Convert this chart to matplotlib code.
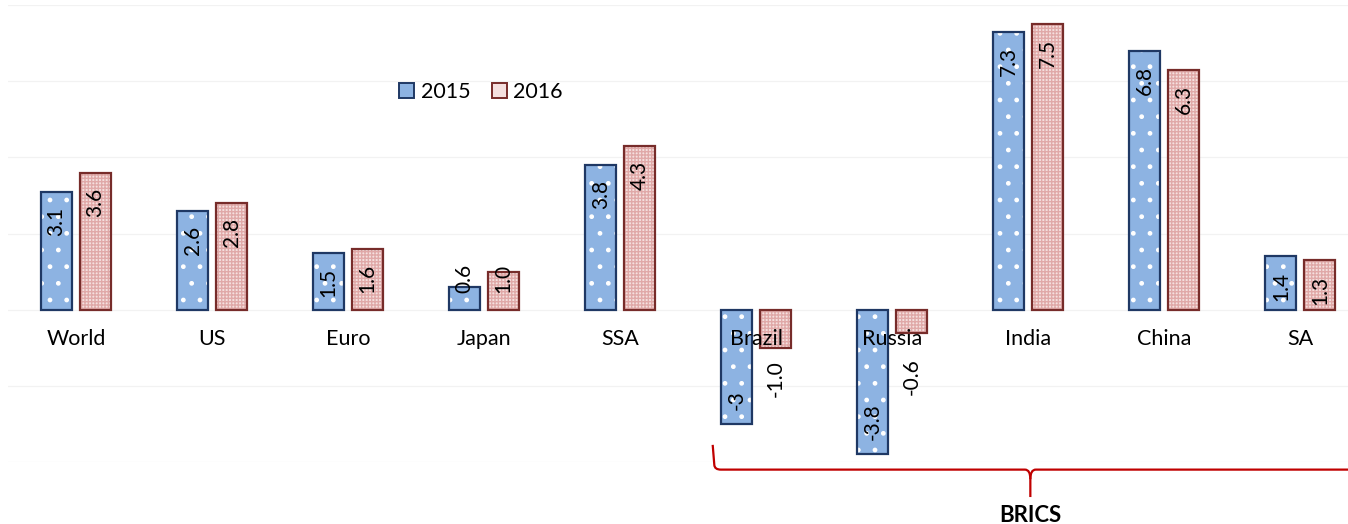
import matplotlib
matplotlib.use("Agg")
import matplotlib.pyplot as plt
from matplotlib.patches import Patch, PathPatch
from matplotlib.path import Path
import numpy as np

categories = ["World", "US", "Euro", "Japan", "SSA", "Brazil", "Russia", "India", "China", "SA"]
growth_2015 = [3.1, 2.6, 1.5, 0.6, 3.8, -3.0, -3.8, 7.3, 6.8, 1.4]
growth_2016 = [3.6, 2.8, 1.6, 1.0, 4.3, -1.0, -0.6, 7.5, 6.3, 1.3]
labels_2015 = ["3.1", "2.6", "1.5", "0.6", "3.8", "-3", "-3.8", "7.3", "6.8", "1.4"]
labels_2016 = ["3.6", "2.8", "1.6", "1.0", "4.3", "-1.0", "-0.6", "7.5", "6.3", "1.3"]
series_names = ["2015", "2016"]
group_label = "BRICS"
group_first, group_tip = "Brazil", "India"

plt.rcParams["font.family"] = ["Lato", "DejaVu Sans"]
plt.rcParams["hatch.linewidth"] = 1.0

W, H = 1348, 524
fig = plt.figure(figsize=(W / 100, H / 100), dpi=100)
ax = fig.add_axes([8 / W, 1 - 462 / H, 1 - 8 / W, (462 - 5) / H])
ax.set_xlim(-0.5, 9.35)
ax.set_ylim(-4, 8)
for s in ax.spines.values():
    s.set_visible(False)
ax.set_xticks([])
ax.set_yticks([])
for g in np.arange(-4, 8.1, 2):
    ax.axhline(g, color="#F2F2F2", lw=0.9, zorder=0)

x = np.arange(len(categories))
off = 0.143
bw = 0.228
c15_face, c15_edge = "#8DB3E2", "#1F3864"
c16_face, c16_edge = "#F5E0DF", "#772C2A"

# 2015 bars: fill + white dots, then outline
ax.bar(x - off, growth_2015, bw, color=c15_face, edgecolor="white", lw=0, hatch=".", zorder=2)
ax.bar(x - off, growth_2015, bw, fill=False, edgecolor=c15_edge, lw=1.6, zorder=3)
# 2016 bars: pink check pattern, then outline
ax.bar(x + off, growth_2016, bw, color=c16_face, edgecolor="#E0A9A8", lw=0, hatch="+++++", zorder=2)
ax.bar(x + off, growth_2016, bw, fill=False, edgecolor=c16_edge, lw=1.6, zorder=3)

fs = 15

def put_label(xc, v, txt, inside_neg):
    if v >= 0:
        if v < 1.2:
            ax.annotate(txt, (xc, 0), xytext=(0, 12), textcoords="offset points",
                        rotation=90, ha="center", va="bottom", fontsize=fs, zorder=5)
        else:
            ax.annotate(txt, (xc, v), xytext=(0, -11), textcoords="offset points",
                        rotation=90, ha="center", va="top", fontsize=fs, zorder=5)
    else:
        if inside_neg:
            ax.annotate(txt, (xc, v), xytext=(0, 10), textcoords="offset points",
                        rotation=90, ha="center", va="bottom", fontsize=fs, zorder=5)
        else:
            ax.annotate(txt, (xc, min(v, -0.95)), xytext=(0, -9), textcoords="offset points",
                        rotation=90, ha="center", va="top", fontsize=fs, zorder=5)

for i in range(len(categories)):
    put_label(x[i] - off, growth_2015[i], labels_2015[i], True)
    put_label(x[i] + off, growth_2016[i], labels_2016[i], False)

for i, c in enumerate(categories):
    ax.text(x[i], -0.78, c, ha="center", va="center", fontsize=15.5, zorder=6)

handles = [Patch(facecolor=c15_face, edgecolor=c15_edge, lw=1.4),
           Patch(facecolor=c16_face, edgecolor=c16_edge, lw=1.4)]
fig.legend(handles, series_names, loc="center", bbox_to_anchor=(481 / W, 1 - 92 / H),
           bbox_transform=fig.transFigure, ncol=2, frameon=False, fontsize=15.5,
           handlelength=0.7, handleheight=0.7, handletextpad=0.3, columnspacing=1.0)

# BRICS brace
L = categories.index(group_first) - 0.32
T = categories.index(group_tip) + 0.015
R = 2 * T - L + 0.3
yt, yh, yb = -3.55, -4.2, -4.92
verts = [(L, yt), (L + 0.012, yh + 0.12), (L + 0.015, yh), (L + 0.06, yh),
         (T - 0.04, yh), (T, yh), (T, yh - 0.25), (T, yb)]
codes = [Path.MOVETO, Path.LINETO, Path.CURVE3, Path.CURVE3,
         Path.LINETO, Path.CURVE3, Path.CURVE3, Path.LINETO]
verts2 = [(R, yh), (T + 0.04, yh), (T, yh), (T, yh - 0.25)]
codes2 = [Path.MOVETO, Path.LINETO, Path.CURVE3, Path.CURVE3]
for v, c in ((verts, codes), (verts2, codes2)):
    ax.add_patch(PathPatch(Path(v, c), fill=False, edgecolor="#C00000", lw=1.6, clip_on=False, zorder=4))
ax.text(T, -5.4, group_label, ha="center", va="center", fontsize=16, fontweight="bold", clip_on=False)

fig.savefig("out.png", dpi=100, facecolor="white")
